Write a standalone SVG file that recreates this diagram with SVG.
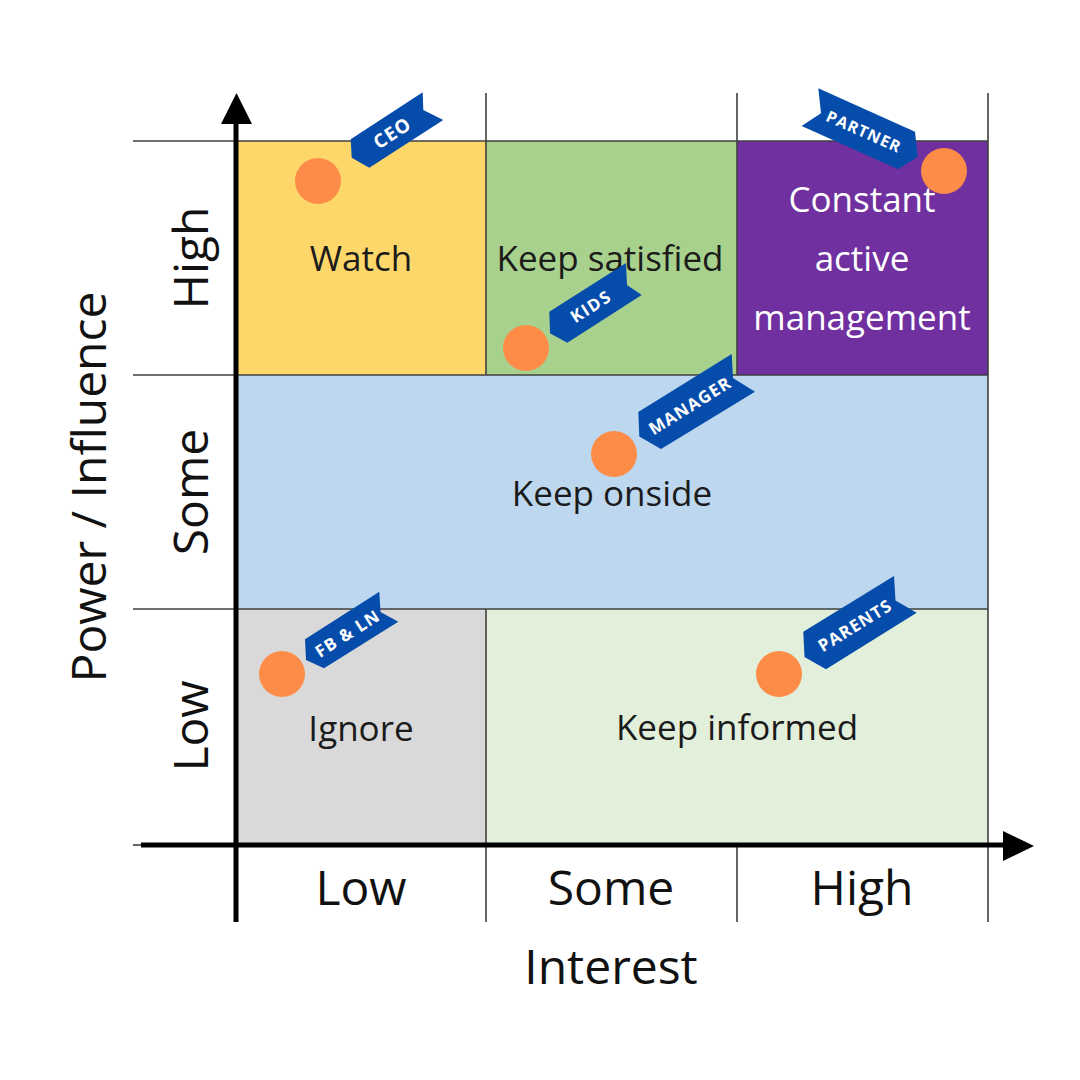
<svg xmlns="http://www.w3.org/2000/svg" width="1080" height="1080" viewBox="0 0 1080 1080">
<style>
.cell{stroke:none}
.grid{stroke:#3f3f3f;stroke-width:1.6;fill:none}
.axis{stroke:#000;stroke-width:5;fill:none}
.ctext{font-family:"Open Sans","Liberation Sans",sans-serif;font-size:35px;fill:#1b1b1b;text-anchor:middle}
.wtext{fill:#ffffff}
.alabel{font-family:"Open Sans","Liberation Sans",sans-serif;font-size:48px;fill:#111;text-anchor:middle}
.dot{fill:#FD8C48}
.tag{fill:#064CAA}
.ttext{font-family:"Open Sans","Liberation Sans",sans-serif;font-weight:700;font-size:17px;fill:#fff;text-anchor:middle;letter-spacing:1px}
</style>
<rect width="1080" height="1080" fill="#ffffff"/>

<g id="cells">
  <rect id="cell-watch" class="cell" x="236" y="141" width="250" height="234" fill="#FDD76A"/>
  <rect id="cell-satisfied" class="cell" x="486" y="141" width="251" height="234" fill="#A9D18E"/>
  <rect id="cell-active" class="cell" x="737" y="141" width="251" height="234" fill="#7030A0"/>
  <rect id="cell-onside" class="cell" x="236" y="375" width="752" height="234" fill="#BDD7EE"/>
  <rect id="cell-ignore" class="cell" x="236" y="609" width="250" height="235" fill="#D9D9D9"/>
  <rect id="cell-informed" class="cell" x="486" y="609" width="502" height="235" fill="#E2EFDA"/>
</g>

<g id="grid">
  <line class="grid" x1="133" y1="141" x2="988" y2="141"/>
  <line class="grid" x1="133" y1="375" x2="988" y2="375"/>
  <line class="grid" x1="133" y1="609" x2="988" y2="609"/>
  <line class="grid" x1="133" y1="845" x2="145" y2="845"/>
  <line class="grid" x1="486" y1="93" x2="486" y2="375"/>
  <line class="grid" x1="486" y1="609" x2="486" y2="922"/>
  <line class="grid" x1="737" y1="93" x2="737" y2="375"/>
  <line class="grid" x1="737" y1="844" x2="737" y2="922"/>
  <line class="grid" x1="988" y1="93" x2="988" y2="922"/>
</g>

<g id="cell-labels">
  <text class="ctext" x="361" y="271">Watch</text>
  <text class="ctext" x="610" y="271">Keep satisfied</text>
  <text class="ctext wtext" x="862" y="212">Constant</text>
  <text class="ctext wtext" x="862" y="271">active</text>
  <text class="ctext wtext" x="862" y="330">management</text>
  <text class="ctext" x="612" y="506">Keep onside</text>
  <text class="ctext" x="361" y="741">Ignore</text>
  <text class="ctext" x="737" y="740">Keep informed</text>
</g>

<g id="axes">
  <line class="axis" x1="236" y1="922" x2="236" y2="120"/>
  <polygon points="236.5,93 221,124 252,124" fill="#000"/>
  <line class="axis" x1="141" y1="845" x2="1006" y2="845"/>
  <polygon points="1034,846 1003,831 1003,861" fill="#000"/>
</g>

<g id="axis-labels">
  <text class="alabel" x="361" y="905">Low</text>
  <text class="alabel" x="611" y="905">Some</text>
  <text class="alabel" x="862" y="905">High</text>
  <text class="alabel" x="611" y="984">Interest</text>
  <text class="alabel" transform="translate(208,258) rotate(-90)">High</text>
  <text class="alabel" transform="translate(208,492) rotate(-90)">Some</text>
  <text class="alabel" transform="translate(208,726) rotate(-90)">Low</text>
  <text class="alabel" transform="translate(106,487) rotate(-90)">Power / Influence</text>
</g>

<g id="dots">
  <circle id="dot-ceo" class="dot" cx="318" cy="181" r="23"/>
  <circle id="dot-partner" class="dot" cx="944" cy="171" r="23"/>
  <circle id="dot-kids" class="dot" cx="526" cy="348" r="23"/>
  <circle id="dot-manager" class="dot" cx="614" cy="454" r="23"/>
  <circle id="dot-fbln" class="dot" cx="282" cy="674" r="23"/>
  <circle id="dot-parents" class="dot" cx="779" cy="674" r="23"/>
</g>

<g id="tag-ceo">
  <polygon class="tag" points="350.7,139.3 422.7,92.3 423.3,110 443.3,120 369.3,167.7 351.7,157.7"/>
  <text class="ttext" style="font-size:19px" transform="translate(392,132.7) rotate(-33)" y="7">CEO</text>
</g>
<g id="tag-partner">
  <polygon class="tag" points="818.3,88.3 915,131.7 917.7,156.7 898.3,169.3 801.6,125.9 821,113.3"/>
  <text class="ttext" style="font-size:16px" transform="translate(864,131.4) rotate(24)" y="6">PARTNER</text>
</g>
<g id="tag-kids">
  <polygon class="tag" points="549.3,311.7 626,263 627,285 641.7,295 567.3,342.7 550,333.3"/>
  <text class="ttext" style="letter-spacing:1.5px" transform="translate(591,306.5) rotate(-32.5)" y="6">KIDS</text>
</g>
<g id="tag-manager">
  <polygon class="tag" points="638.3,412 731.7,354 733,378 755,391.7 661,449 639.3,436.5"/>
  <text class="ttext" transform="translate(690,405.7) rotate(-32)" y="6">MANAGER</text>
</g>
<g id="tag-fbln">
  <polygon class="tag" points="305,639.3 379.3,591.7 380.5,612 398.3,621.7 324,668.3 306,660"/>
  <text class="ttext" transform="translate(347.5,633.5) rotate(-32.6)" y="6">FB &amp; LN</text>
</g>
<g id="tag-parents">
  <polygon class="tag" points="803.3,631.7 894,576 895.5,600.5 916.7,612.7 826,669.3 804.5,657"/>
  <text class="ttext" transform="translate(855,625.6) rotate(-31.6)" y="6">PARENTS</text>
</g>
</svg>
